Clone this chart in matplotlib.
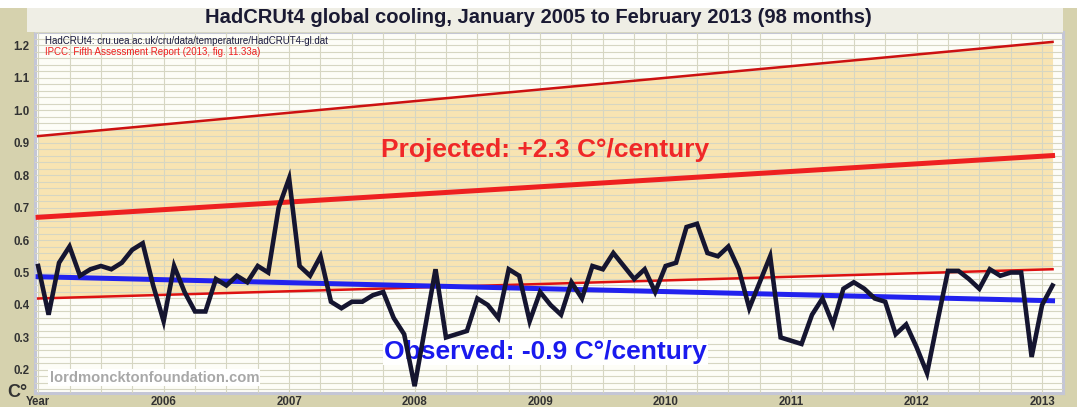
import numpy as np
import matplotlib.pyplot as plt
from matplotlib.patches import Rectangle
from matplotlib.ticker import MultipleLocator

# HadCRUT4 monthly anomalies, Jan 2005 .. Feb 2013 (98 months)
hadcrut = [0.52, 0.37, 0.53, 0.58, 0.49, 0.51, 0.52, 0.51, 0.53, 0.57, 0.59, 0.46,
           0.35, 0.52, 0.44, 0.38, 0.38, 0.48, 0.46, 0.49, 0.47, 0.52, 0.50, 0.70,
           0.79, 0.52, 0.49, 0.55, 0.41, 0.39, 0.41, 0.41, 0.43, 0.44, 0.36, 0.31,
           0.15, 0.33, 0.51, 0.30, 0.31, 0.32, 0.42, 0.40, 0.36, 0.51, 0.49, 0.35,
           0.44, 0.40, 0.37, 0.47, 0.42, 0.52, 0.51, 0.56, 0.52, 0.48, 0.51, 0.44,
           0.52, 0.53, 0.64, 0.65, 0.56, 0.55, 0.58, 0.51, 0.39, 0.47, 0.55, 0.30,
           0.29, 0.28, 0.37, 0.42, 0.34, 0.45, 0.47, 0.45, 0.42, 0.41, 0.31, 0.34,
           0.27, 0.19, 0.35, 0.505, 0.505, 0.48, 0.45, 0.51, 0.49, 0.50, 0.50, 0.24,
           0.40, 0.46]
months = np.arange(len(hadcrut))

# trend lines: start / end values
proj_mid = [0.67, 0.86]
proj_low = [0.42, 0.51]
proj_high = [0.92, 1.21]
observed = [0.487, 0.413]
ends = [0, len(hadcrut) - 1]

year_ticks = [0, 12, 24, 36, 48, 60, 72, 84, 96]
year_labels = ['Year', '2006', '2007', '2008', '2009', '2010', '2011', '2012', '2013']
y_ticks = [0.2, 0.3, 0.4, 0.5, 0.6, 0.7, 0.8, 0.9, 1.0, 1.1, 1.2]

plt.rcParams['font.family'] = ['Liberation Sans', 'DejaVu Sans']

fig = plt.figure(figsize=(10.77, 4.07), dpi=100)
fig.patch.set_facecolor('#d6d2ae')
# light title band and white strip at the very top
fig.patches.append(Rectangle((0.025, 0.921), 0.962, 0.06, transform=fig.transFigure,
                             facecolor='#efeee5', edgecolor='none', zorder=0))
fig.patches.append(Rectangle((0, 0.98), 1, 0.02, transform=fig.transFigure,
                             facecolor='white', edgecolor='none', zorder=0))

ax = fig.add_axes([0.0325, 0.0344, 0.9545, 0.8866])
ax.set_facecolor('#fdfdf7')

# projection band
ax.fill_between(ends, proj_low, proj_high, color='#f8e4b2', zorder=1, lw=0)
ax.plot(ends, proj_high, color='#cc1111', lw=1.8, zorder=4)
ax.plot(ends, proj_low, color='#dd1111', lw=1.8, zorder=4)
ax.plot(ends, proj_mid, color='#ee2020', lw=3.6, zorder=4)
ax.plot(ends, observed, color='#2222ee', lw=3.6, zorder=4)

ax.text(48.5, 0.876, 'Projected: +2.3 C\u00b0/century', color='#f02828', fontsize=19,
        fontweight='bold', ha='center', va='center', zorder=5)
ax.text(48.5, 0.255, 'Observed: -0.9 C\u00b0/century', color='#1a1aee', fontsize=19,
        fontweight='bold', ha='center', va='center', zorder=5,
        bbox=dict(facecolor='white', edgecolor='none', pad=1))
ax.text(1.1, 0.176, 'lordmoncktonfoundation.com', color='#a8a8a8', fontsize=10.6,
        fontweight='bold', ha='left', va='center', zorder=5,
        bbox=dict(facecolor='white', edgecolor='none', pad=1))

ax.text(0.01, 0.975, 'HadCRUt4: cru.uea.ac.uk/cru/data/temperature/HadCRUT4-gl.dat',
        transform=ax.transAxes, color='#1a1a40', fontsize=7, ha='left', va='center', zorder=5)
ax.text(0.01, 0.945, 'IPCC: Fifth Assessment Report (2013, fig. 11.33a)',
        transform=ax.transAxes, color='#ee2020', fontsize=7, ha='left', va='center', zorder=5)

# observed data
ax.plot(months, hadcrut, color='#151530', lw=3.3, zorder=6, solid_joinstyle='miter')

ax.set_xlim(-0.3, 98.0)
ax.set_ylim(0.129, 1.24)

ax.set_xticks(year_ticks)
ax.set_xticklabels(year_labels)
ax.set_yticks(y_ticks)
ax.set_yticklabels(['%.1f' % v for v in y_ticks])
ax.xaxis.set_minor_locator(MultipleLocator(3))
ax.yaxis.set_minor_locator(MultipleLocator(0.02))
ax.tick_params(which='both', length=0)
ax.tick_params(axis='y', pad=4, labelsize=8.3, labelcolor='#333333')
ax.tick_params(axis='x', pad=2, labelsize=8.3, labelcolor='#333333')
for lab in ax.get_xticklabels() + ax.get_yticklabels():
    lab.set_fontweight('bold')

ax.grid(which='both', color='#d6d6c2', lw=0.8, zorder=2)
ax.set_axisbelow(False)
for l in ax.get_xgridlines() + ax.get_ygridlines():
    l.set_zorder(2)

for s in ax.spines.values():
    s.set_color('#c4c6d6')
    s.set_linewidth(2.2)

fig.text(0.5, 0.957, 'HadCRUt4 global cooling, January 2005 to February 2013 (98 months)',
         ha='center', va='center', fontsize=14.5, fontweight='bold', color='#1a1a33')
fig.text(0.007, 0.035, 'C\u00b0', ha='left', va='center', fontsize=13, fontweight='bold',
         color='#333333')

plt.savefig('out.png', dpi=100, facecolor=fig.get_facecolor())
